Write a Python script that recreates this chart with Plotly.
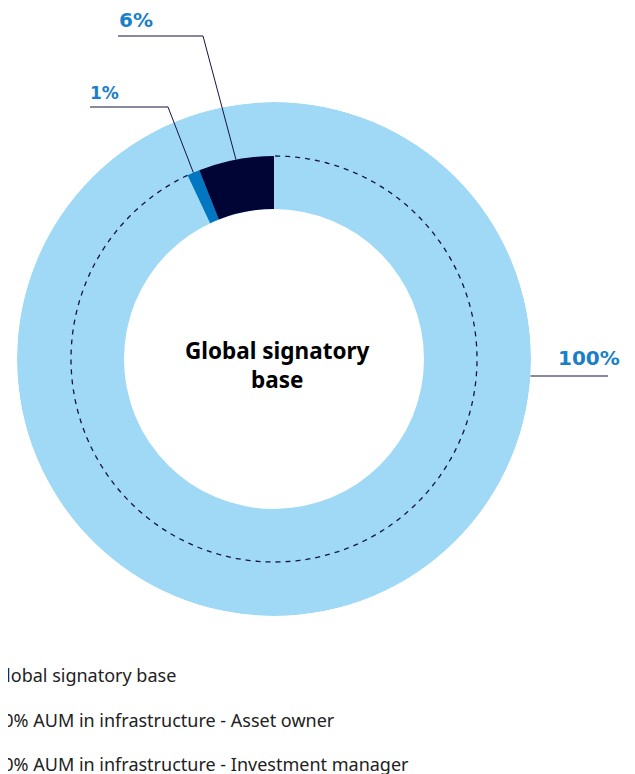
import math
import numpy as np
import plotly.graph_objects as go

# ---------------- data ----------------
categories = [
    "Global signatory base",
    "10% AUM in infrastructure - Asset owner",
    "10% AUM in infrastructure - Investment manager",
]
shares = [100, 1, 6]          # percent of the global signatory base
share_labels = ["100%", "1%", "6%"]
center_label = "Global signatory<br>base"

# ---------------- style ----------------
colors = ["#9FD9F6", "#0077C0", "#000535"]
label_color = "#1A7FC8"
line_color = "#14143F"

W, H = 635, 774
OFF = 8                             # page body margin offset
CX, CY = 274, 359                   # ring centre in screen pixels
R_OUT, R_MID, R_IN = 257, 203, 150  # radii in pixels (radial axis units)


def px(x):
    return (x - OFF) / W


def py(y):
    return 1 - (y - OFF) / H


def ring_point(angle_deg, r):
    a = math.radians(angle_deg)
    return CX - r * math.sin(a), CY - r * math.cos(a)


fig = go.Figure()

# full ring: global signatory base
fig.add_trace(go.Barpolar(
    r=[R_OUT - R_IN], base=[R_IN], theta=[180], width=[shares[0] * 3.6],
    marker=dict(color=colors[0], line=dict(width=0)),
    name=categories[0], legendgroup="g0", hoverinfo="skip",
))

# inner sub-segments, counter-clockwise from 12 o'clock: investment manager, then asset owner
order = [2, 1]
start = 0.0
mids = {}
for i in order:
    w = shares[i] * 3.6
    mids[i] = start + w / 2
    start += w
end_of_segments = start

for i in [1, 2]:
    fig.add_trace(go.Barpolar(
        r=[R_MID - R_IN], base=[R_IN], theta=[mids[i]], width=[shares[i] * 3.6],
        marker=dict(color=colors[i], line=dict(width=0)),
        name=categories[i], legendgroup=f"g{i}", hoverinfo="skip",
    ))

# dashed guide circle (not over the sub-segments)
th = np.linspace(end_of_segments, 360, 600)
fig.add_trace(go.Scatterpolar(
    r=np.full_like(th, R_MID), theta=th, mode="lines",
    line=dict(color=line_color, width=1.3, dash="5px,5px"),
    showlegend=False, hoverinfo="skip",
))

# ---------------- leader lines & labels ----------------
shapes = []
annotations = []

# 6% label (investment manager)
ax, ay = ring_point(mids[2], R_MID)
elbow6 = (203, 36)
left6 = 118
shapes.append(dict(type="path", xref="paper", yref="paper",
                   path=f"M {px(left6)},{py(elbow6[1])} L {px(elbow6[0])},{py(elbow6[1])} L {px(ax)},{py(ay)}",
                   line=dict(color=line_color, width=1)))
annotations.append(dict(x=px(left6 - 1), y=py(20), xref="paper", yref="paper",
                        text=f"<b>{share_labels[2]}</b>", showarrow=False,
                        xanchor="left", yanchor="middle",
                        font=dict(family="DejaVu Sans", size=20, color=label_color)))

# 1% label (asset owner)
bx, by = ring_point(mids[1], R_MID)
elbow1 = (168, 107)
left1 = 90
shapes.append(dict(type="path", xref="paper", yref="paper",
                   path=f"M {px(left1)},{py(elbow1[1])} L {px(elbow1[0])},{py(elbow1[1])} L {px(bx)},{py(by)}",
                   line=dict(color=line_color, width=1)))
annotations.append(dict(x=px(left1 - 2), y=py(93), xref="paper", yref="paper",
                        text=f"<b>{share_labels[1]}</b>", showarrow=False,
                        xanchor="left", yanchor="middle",
                        font=dict(family="DejaVu Sans", size=17, color=label_color)))

# 100% label
ly = 376
lx0 = CX + math.sqrt(R_OUT ** 2 - (ly - CY) ** 2)
shapes.append(dict(type="line", xref="paper", yref="paper",
                   x0=px(lx0), y0=py(ly), x1=px(608), y1=py(ly),
                   line=dict(color=line_color, width=1)))
annotations.append(dict(x=px(556), y=py(358), xref="paper", yref="paper",
                        text=f"<b>{share_labels[0]}</b>", showarrow=False,
                        xanchor="left", yanchor="middle",
                        font=dict(family="DejaVu Sans", size=20, color=label_color)))

# centre label
annotations.append(dict(x=px(CX + 3), y=py(365), xref="paper", yref="paper",
                        text=f"<b>{center_label}</b>", showarrow=False,
                        xanchor="center", yanchor="middle",
                        font=dict(family="Noto Sans", size=22.5, color="#000000")))

fig.update_layout(
    width=W, height=H,
    margin=dict(l=0, r=0, t=0, b=0, autoexpand=False),
    paper_bgcolor="white",
    plot_bgcolor="white",
    polar=dict(
        domain=dict(x=[px(CX - R_OUT), px(CX + R_OUT)], y=[py(CY + R_OUT), py(CY - R_OUT)]),
        bgcolor="rgba(0,0,0,0)",
        hole=0,
        barmode="overlay",
        angularaxis=dict(rotation=90, direction="counterclockwise", visible=False,
                         showgrid=False, showline=False, showticklabels=False, ticks=""),
        radialaxis=dict(range=[0, R_OUT], visible=False, showgrid=False,
                        showline=False, showticklabels=False, ticks=""),
    ),
    showlegend=True,
    legend=dict(
        x=px(-47), y=py(657), xanchor="left", yanchor="top",
        orientation="v", traceorder="grouped", tracegroupgap=18,
        font=dict(family="Noto Sans", size=18, color="#222222"),
        bgcolor="rgba(0,0,0,0)",
    ),
    shapes=shapes,
    annotations=annotations,
)

fig.write_html("out.html")
